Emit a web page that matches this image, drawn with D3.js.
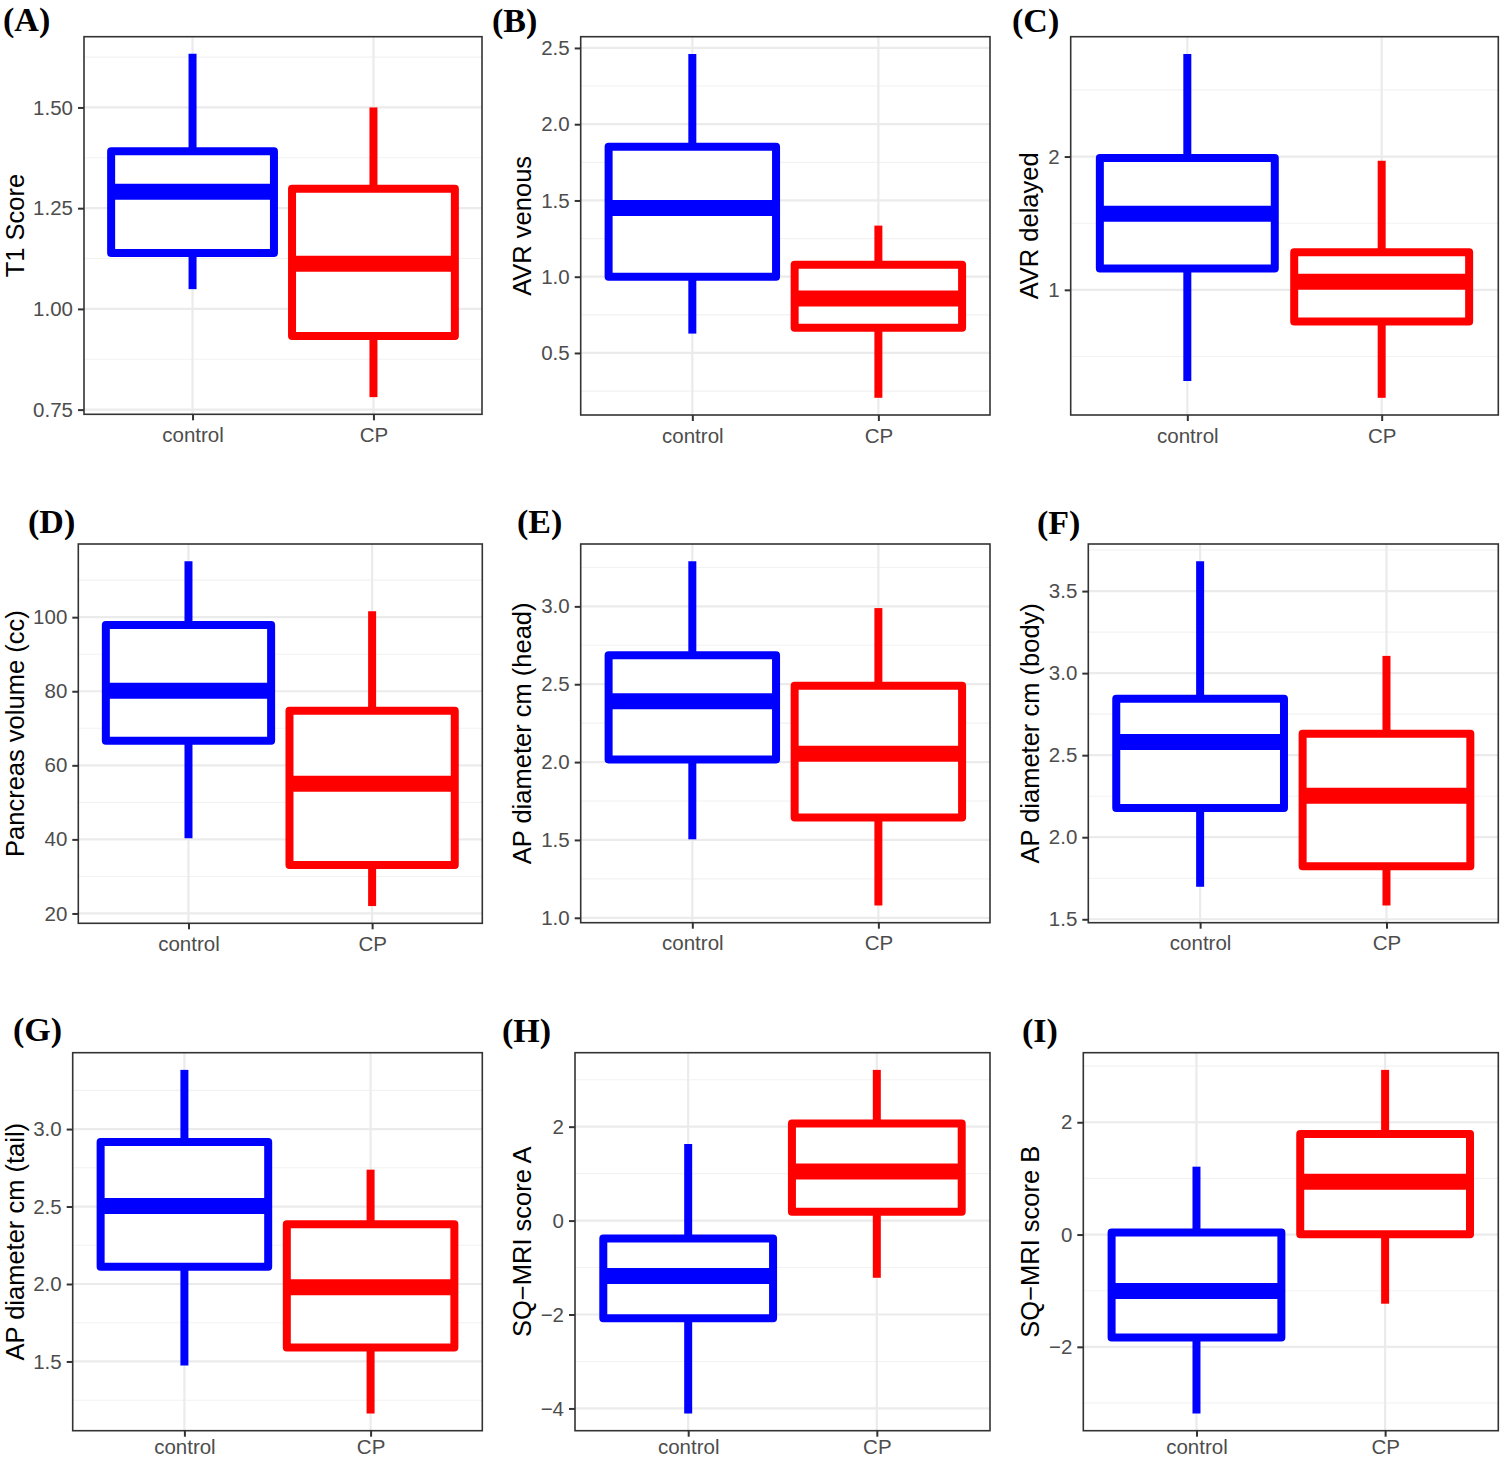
<!DOCTYPE html>
<html>
<head>
<meta charset="utf-8">
<script src="https://cdn.jsdelivr.net/npm/d3@7"></script>
<style>
  html, body { margin: 0; padding: 0; background: #ffffff; }
  svg { display: block; }
</style>
</head>
<body>
<svg id="chart" width="1500" height="1459"></svg>
<script>
// ---------------- DATA ----------------
const categories = ["control", "CP"];
const panelLetters = ["(A)", "(B)", "(C)", "(D)", "(E)", "(F)", "(G)", "(H)", "(I)"];
const yTitles = [
  "T1 Score", "AVR venous", "AVR delayed",
  "Pancreas volume (cc)", "AP diameter cm (head)", "AP diameter cm (body)",
  "AP diameter cm  (tail)", "SQ\u2212MRI score A", "SQ\u2212MRI score B"
];
// box statistics per panel: [lower whisker, Q1, median, Q3, upper whisker]
const controlStats = [
  [1.049, 1.139, 1.291, 1.391, 1.633],
  [0.627, 1.000, 1.451, 1.852, 2.461],
  [0.317, 1.160, 1.570, 1.989, 2.770],
  [40.3, 66.6, 80.1, 97.9, 115.1],
  [1.504, 2.017, 2.390, 2.686, 3.290],
  [1.698, 2.178, 2.580, 2.844, 3.682],
  [1.474, 2.111, 2.503, 2.917, 3.382],
  [-4.108, -2.079, -1.180, -0.383, 1.630],
  [-3.188, -1.835, -1.004, 0.036, 1.209]
];
const cpStats = [
  [0.781, 0.933, 1.112, 1.298, 1.500],
  [0.206, 0.665, 0.857, 1.078, 1.335],
  [0.190, 0.762, 1.061, 1.282, 1.968],
  [22.0, 33.1, 55.0, 74.7, 101.6],
  [1.079, 1.644, 2.054, 2.491, 2.989],
  [1.584, 1.823, 2.252, 2.631, 3.105],
  [1.164, 1.590, 1.979, 2.385, 2.738],
  [-1.218, 0.187, 1.046, 2.066, 3.209],
  [-1.232, 0.004, 0.939, 1.790, 2.933]
];
const tickValues = [
  [0.75, 1.00, 1.25, 1.50],
  [0.5, 1.0, 1.5, 2.0, 2.5],
  [1, 2],
  [20, 40, 60, 80, 100],
  [1.0, 1.5, 2.0, 2.5, 3.0],
  [1.5, 2.0, 2.5, 3.0, 3.5],
  [1.5, 2.0, 2.5, 3.0],
  [-4, -2, 0, 2],
  [-2, 0, 2]
];
const tickLabels = [
  ["0.75", "1.00", "1.25", "1.50"],
  ["0.5", "1.0", "1.5", "2.0", "2.5"],
  ["1", "2"],
  ["20", "40", "60", "80", "100"],
  ["1.0", "1.5", "2.0", "2.5", "3.0"],
  ["1.5", "2.0", "2.5", "3.0", "3.5"],
  ["1.5", "2.0", "2.5", "3.0"],
  ["\u22124", "\u22122", "0", "2"],
  ["\u22122", "0", "2"]
];
const minorTicks = [
  [0.875, 1.125, 1.375, 1.625],
  [0.25, 0.75, 1.25, 1.75, 2.25],
  [0.5, 1.5, 2.5],
  [30, 50, 70, 90, 110],
  [1.25, 1.75, 2.25, 2.75, 3.25],
  [1.75, 2.25, 2.75, 3.25, 3.75],
  [1.25, 1.75, 2.25, 2.75, 3.25],
  [-3, -1, 1, 3],
  [-3, -1, 1, 3]
];
const groupColors = ["#0000ff", "#ff0000"];

// ---------------- LAYOUT ----------------
// plot rectangles [left, top, right, bottom] and panel letter positions [x, baseline]
const plotRects = [
  [84, 36.7, 482, 414.3],
  [580.7, 36.7, 990, 415],
  [1070.7, 36.7, 1498.3, 415],
  [78.3, 544, 482.3, 923.3],
  [580.7, 544, 990, 922.7],
  [1088.3, 544, 1498.3, 922.7],
  [72.7, 1052.7, 482.3, 1430.7],
  [575, 1052.7, 990, 1430.7],
  [1083.3, 1052.7, 1498.3, 1430.7]
];
const letterPos = [
  [3, 31], [492, 32], [1012, 32],
  [28, 533], [517, 533], [1037, 534],
  [13, 1041], [502, 1042], [1022, 1042]
];
const xLabelPad = [7, 7, 7, 7, 7, 7, 3, 3, 3];

const FONT = "'Liberation Sans', Arial, Helvetica, sans-serif";
const svg = d3.select("#chart");
svg.append("rect").attr("width", 1500).attr("height", 1459).attr("fill", "#fff");

panelLetters.forEach((letter, p) => {
  const [L, T, R, B] = plotRects[p];
  const stats = [controlStats[p], cpStats[p]];
  const lo = d3.min(stats, s => s[0]);
  const hi = d3.max(stats, s => s[4]);
  const pad = (hi - lo) * 0.05;

  const x = d3.scalePoint().domain(categories).range([L, R]).padding(0.6);
  const y = d3.scaleLinear().domain([lo - pad, hi + pad]).range([B, T]);
  const bw = x.step() * 0.9;

  const g = svg.append("g");

  // panel background
  g.append("rect").attr("x", L).attr("y", T).attr("width", R - L).attr("height", B - T).attr("fill", "#fff");

  // minor grid
  g.selectAll(".minor").data(minorTicks[p].filter(v => v >= y.domain()[0] && v <= y.domain()[1]))
    .enter().append("line")
    .attr("x1", L).attr("x2", R)
    .attr("y1", d => y(d)).attr("y2", d => y(d))
    .attr("stroke", "#f2f2f2").attr("stroke-width", 1.1);
  // major grid
  g.selectAll(".major").data(tickValues[p]).enter().append("line")
    .attr("x1", L).attr("x2", R)
    .attr("y1", d => y(d)).attr("y2", d => y(d))
    .attr("stroke", "#ebebeb").attr("stroke-width", 2.2);
  g.selectAll(".vmajor").data(categories).enter().append("line")
    .attr("x1", d => x(d)).attr("x2", d => x(d))
    .attr("y1", T).attr("y2", B)
    .attr("stroke", "#ebebeb").attr("stroke-width", 2.2);

  // boxplots
  categories.forEach((c, i) => {
    const s = stats[i];
    const cx = x(c);
    const col = groupColors[i];
    const bg = g.append("g");
    bg.append("line").attr("x1", cx).attr("x2", cx)
      .attr("y1", y(s[4])).attr("y2", y(s[3]))
      .attr("stroke", col).attr("stroke-width", 8);
    bg.append("line").attr("x1", cx).attr("x2", cx)
      .attr("y1", y(s[0])).attr("y2", y(s[1]))
      .attr("stroke", col).attr("stroke-width", 8);
    bg.append("rect")
      .attr("x", cx - bw / 2).attr("y", y(s[3]))
      .attr("width", bw).attr("height", y(s[1]) - y(s[3]))
      .attr("fill", "#fff").attr("stroke", col).attr("stroke-width", 8)
      .attr("stroke-linejoin", "round");
    bg.append("line")
      .attr("x1", cx - bw / 2).attr("x2", cx + bw / 2)
      .attr("y1", y(s[2])).attr("y2", y(s[2]))
      .attr("stroke", col).attr("stroke-width", 16);
  });

  // panel border
  g.append("rect").attr("x", L).attr("y", T).attr("width", R - L).attr("height", B - T)
    .attr("fill", "none").attr("stroke", "#333333").attr("stroke-width", 1.6);

  // y axis
  const yAxis = g.append("g").attr("transform", `translate(${L},0)`)
    .call(d3.axisLeft(y).tickValues(tickValues[p])
      .tickFormat((d, i) => tickLabels[p][i]).tickSize(6).tickPadding(5));
  yAxis.select(".domain").remove();
  yAxis.selectAll(".tick line").attr("stroke", "#333333").attr("stroke-width", 2);
  yAxis.selectAll(".tick text").attr("fill", "#4d4d4d")
    .style("font-family", FONT).style("font-size", "20.5px");

  // x axis
  const xAxis = g.append("g").attr("transform", `translate(0,${B})`)
    .call(d3.axisBottom(x).tickSize(6).tickPadding(xLabelPad[p]));
  xAxis.select(".domain").remove();
  xAxis.selectAll(".tick line").attr("stroke", "#333333").attr("stroke-width", 2);
  xAxis.selectAll(".tick text").attr("fill", "#4d4d4d")
    .style("font-family", FONT).style("font-size", "20.5px");

  // y title
  const bb = yAxis.node().getBBox();
  const tx = Math.max(L + bb.x - 10, 24);
  const ty = (T + B) / 2;
  g.append("text")
    .attr("transform", `translate(${tx},${ty}) rotate(-90)`)
    .attr("text-anchor", "middle")
    .style("font-family", FONT).style("font-size", "25.5px")
    .attr("fill", "#000")
    .text(yTitles[p]);

  // panel letter
  svg.append("text")
    .attr("x", letterPos[p][0]).attr("y", letterPos[p][1])
    .style("font-family", "'Liberation Serif', 'Times New Roman', serif")
    .style("font-weight", "bold").style("font-size", "34px")
    .attr("fill", "#000")
    .text(letter);
});
</script>
</body>
</html>
